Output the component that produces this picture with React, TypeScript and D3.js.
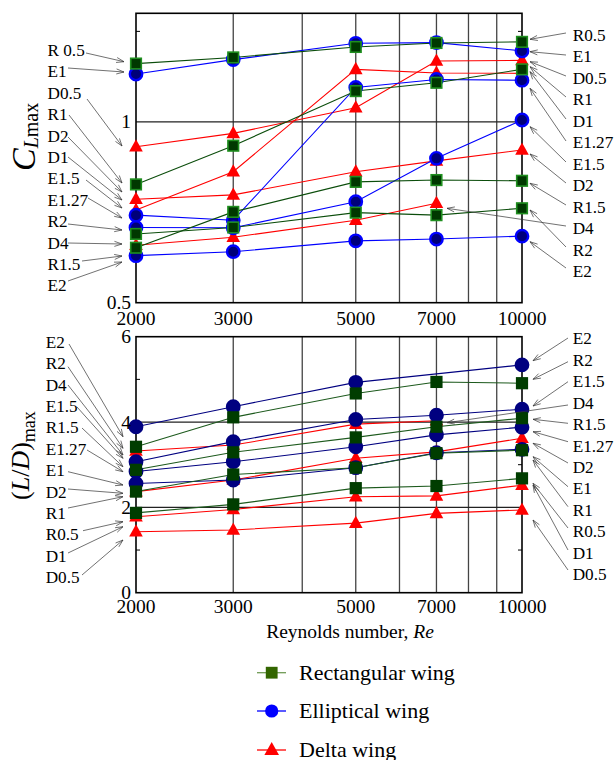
import React from "react";
import * as d3 from "d3";

// ---------- data ----------
const RE = [2000, 3000, 5000, 7000, 10000];
const X_TICKS = [2000, 3000, 5000, 7000, 10000];
const X_GRID = [3000, 4000, 5000, 6000, 7000, 8000, 9000];

// Top panel: C_Lmax
const CL_R05 = [1.161, 1.178, 1.207, 1.218, 1.221];
const CL_R1 = [0.827, 0.934, 1.085, 1.108, 1.145];
const CL_R15 = [0.652, 0.751, 0.834, 0.839, 0.837];
const CL_R2 = [0.69, 0.708, 0.749, 0.742, 0.761];
const CL_E1 = [1.132, 1.172, 1.217, 1.219, 1.196];
const CL_E127 = [0.742, 0.728, 1.095, 1.117, 1.115];
const CL_E15 = [0.708, 0.707, 0.779, 0.899, 1.005];
const CL_E2 = [0.63, 0.641, 0.671, 0.676, 0.684];
const CL_D05 = [0.931, 0.968, 1.039, 1.168, 1.17];
const CL_D1 = [0.756, 0.862, 1.145, 1.135, 1.134];
const CL_D2 = [0.786, 0.798, 0.862, 0.892, 0.922];
const CL_D4 = [0.659, 0.681, 0.728, 0.775, null];
const CL_Y_TICKS = [0.5, 1];
const CL_Y_MINOR = [0.75, 1.25];

// Bottom panel: (L/D)max
const LD_R05 = [1.87, 2.07, 2.45, 2.5, 2.68];
const LD_R1 = [2.37, 2.77, 2.93, 3.27, 3.34];
const LD_R15 = [2.88, 3.29, 3.64, 3.89, 4.09];
const LD_R2 = [3.42, 4.11, 4.67, 4.94, 4.91];
const LD_E1 = [2.56, 2.64, 2.93, 3.28, 3.36];
const LD_E127 = [2.84, 3.07, 3.42, 3.7, 3.88];
const LD_E15 = [3.07, 3.54, 4.06, 4.16, 4.3];
const LD_E2 = [3.89, 4.36, 4.93, null, 5.34];
const LD_D05 = [1.43, 1.47, 1.63, 1.86, 1.94];
const LD_D1 = [1.78, 1.95, 2.25, 2.27, 2.52];
const LD_D2 = [2.37, 2.64, 3.15, 3.3, 3.62];
const LD_D4 = [3.32, 3.46, 3.95, 4.03, null];
const LD_Y_TICKS = [0, 2, 4, 6];
const LD_Y_MINOR = [1, 3, 5];

const LEGEND = ["Rectangular wing", "Elliptical wing", "Delta wing"];

type Series = { name: string; kind: "R" | "E" | "D"; values: (number | null)[] };

const CL_SERIES: Series[] = [
  { name: "D0.5", kind: "D", values: CL_D05 },
  { name: "D1", kind: "D", values: CL_D1 },
  { name: "D2", kind: "D", values: CL_D2 },
  { name: "D4", kind: "D", values: CL_D4 },
  { name: "E1", kind: "E", values: CL_E1 },
  { name: "E1.27", kind: "E", values: CL_E127 },
  { name: "E1.5", kind: "E", values: CL_E15 },
  { name: "E2", kind: "E", values: CL_E2 },
  { name: "R0.5", kind: "R", values: CL_R05 },
  { name: "R1", kind: "R", values: CL_R1 },
  { name: "R1.5", kind: "R", values: CL_R15 },
  { name: "R2", kind: "R", values: CL_R2 },
];
const LD_SERIES: Series[] = [
  { name: "D0.5", kind: "D", values: LD_D05 },
  { name: "D1", kind: "D", values: LD_D1 },
  { name: "D2", kind: "D", values: LD_D2 },
  { name: "D4", kind: "D", values: LD_D4 },
  { name: "E1", kind: "E", values: LD_E1 },
  { name: "E1.27", kind: "E", values: LD_E127 },
  { name: "E1.5", kind: "E", values: LD_E15 },
  { name: "E2", kind: "E", values: LD_E2 },
  { name: "R0.5", kind: "R", values: LD_R05 },
  { name: "R1", kind: "R", values: LD_R1 },
  { name: "R1.5", kind: "R", values: LD_R15 },
  { name: "R2", kind: "R", values: LD_R2 },
];

// annotation labels: [text, startX, startY, endX, endY]
type Ann = [string, number, number, number, number];
const CL_LEFT: Ann[] = [
  ["R 0.5", 86, 53, 124, 61.7],
  ["E1", 68, 68, 124, 72],
  ["D0.5", 87, 99, 122, 146],
  ["R1", 69, 115, 122, 183],
  ["D2", 68, 137, 122, 192],
  ["D1", 68, 157, 122, 200],
  ["E1.5", 86, 180, 122, 208],
  ["E1.27", 88, 198, 122, 218],
  ["R2", 68, 224, 122, 230],
  ["D4", 68, 243, 122, 244],
  ["R1.5", 82, 261, 122, 256],
  ["E2", 68, 281, 122, 262],
];
const CL_RIGHT: Ann[] = [
  ["R0.5", 566, 33, 530, 39.3],
  ["E1", 566, 55, 530, 51.7],
  ["D0.5", 566, 76, 530, 61.7],
  ["R1", 566, 97, 530, 66.7],
  ["D1", 566, 119, 530, 71.7],
  ["E1.27", 566, 141, 530, 88.3],
  ["E1.5", 566, 162, 530, 126.7],
  ["D2", 566, 183, 530, 154],
  ["R1.5", 566, 205, 530, 183.3],
  ["D4", 566, 226, 447, 208.3],
  ["R2", 566, 247, 530, 210],
  ["E2", 566, 268, 530, 241.7],
];
const LD_LEFT: Ann[] = [
  ["E2", 69, 344, 123, 436.7],
  ["R2", 68, 366.7, 123, 448.3],
  ["D4", 68, 385, 123, 455],
  ["E1.5", 77, 407, 123, 458.3],
  ["R1.5", 82, 428, 123, 466.7],
  ["E1.27", 87, 450, 123, 471.7],
  ["E1", 68, 471.7, 123, 485],
  ["D2", 68, 489, 123, 493.3],
  ["R1", 68, 508, 123, 496.7],
  ["R0.5", 83, 530.7, 123, 521.7],
  ["D1", 68, 553, 123, 526.7],
  ["D0.5", 82, 575, 123, 540],
];
const LD_RIGHT: Ann[] = [
  ["E2", 568, 338, 533, 360.7],
  ["R2", 568, 361.7, 533, 379.3],
  ["E1.5", 568, 381.7, 533, 406],
  ["D4", 568, 405, 447, 422.7],
  ["R1.5", 568, 423.3, 533, 419.3],
  ["E1.27", 568, 441.7, 533, 431.7],
  ["D2", 568, 463, 533, 443.3],
  ["E1", 568, 486.7, 533, 456.7],
  ["R1", 568, 506.7, 533, 460],
  ["R0.5", 568, 528, 533, 483.3],
  ["D1", 568, 550, 533, 485],
  ["D0.5", 568, 570, 533, 520],
];

const FONT = "'Liberation Serif', 'Times New Roman', serif";

const x = d3.scaleLog().domain([2000, 10000]).range([136, 522]);
const yCL = d3.scaleLinear().domain([0.5, 1.3]).range([302.7, 13.3]);
const yLD = d3.scaleLinear().domain([0, 6]).range([592.7, 336.7]);

type Style = {
  line: Record<string, string>;
  circleFill: string;
  circleStroke: string;
  squareFill: string;
  squareStroke: string;
};
const TOP_STYLE: Style = {
  line: { R: "#0b4d0b", E: "#0000ff", D: "#ff0000" },
  circleFill: "#00007a",
  circleStroke: "#0000ff",
  squareFill: "#003800",
  squareStroke: "#1f8f1f",
};
const BOT_STYLE: Style = {
  line: { R: "#1d5a1d", E: "#000080", D: "#ff0000" },
  circleFill: "#000080",
  circleStroke: "#000080",
  squareFill: "#003d00",
  squareStroke: "#003d00",
};

function Marker({ kind, cx, cy, st }: { kind: string; cx: number; cy: number; st: Style }) {
  if (kind === "E")
    return <circle cx={cx} cy={cy} r={6.2} fill={st.circleFill} stroke={st.circleStroke} strokeWidth={2.4} />;
  if (kind === "R")
    return (
      <rect x={cx - 5.3} y={cy - 5.3} width={10.6} height={10.6} fill={st.squareFill} stroke={st.squareStroke} strokeWidth={1.6} />
    );
  return <path d={`M${cx},${cy - 7.5}L${cx + 6.8},${cy + 4.8}L${cx - 6.8},${cy + 4.8}Z`} fill="#ff0000" />;
}

function Arrow({ a }: { a: Ann }) {
  const [, x1, y1, x2, y2] = a;
  const ang = Math.atan2(y2 - y1, x2 - x1);
  const L = 8, W = 0.32;
  const p1 = [x2 - L * Math.cos(ang - W), y2 - L * Math.sin(ang - W)];
  const p2 = [x2 - L * Math.cos(ang + W), y2 - L * Math.sin(ang + W)];
  return (
    <g stroke="#333" strokeWidth={0.7} fill="none">
      <line x1={x1} y1={y1} x2={x2} y2={y2} />
      <path d={`M${p1[0]},${p1[1]}L${x2},${y2}L${p2[0]},${p2[1]}`} />
    </g>
  );
}

function Panel({
  y, series, st, yTicks, yMinor, yGrid, left, right, leftY0, rightY0, leftX, tickY,
}: {
  y: d3.ScaleLinear<number, number>; series: Series[]; st: Style; yTicks: number[]; yMinor: number[];
  yGrid: number[]; left: Ann[]; right: Ann[]; leftY0: number; rightY0: number; leftX: number; tickY: number;
}) {
  const [y0, y1] = y.range();
  const x0 = x(2000), x1 = x(10000);
  const line = d3.line<[number, number]>().x((d) => x(d[0])).y((d) => y(d[1]));
  return (
    <g>
      {X_GRID.map((g) => (
        <line key={g} x1={x(g)} x2={x(g)} y1={y1} y2={y0} stroke="#444" strokeWidth={1.3} />
      ))}
      {yGrid.map((g) => (
        <line key={g} x1={x0} x2={x1} y1={y(g)} y2={y(g)} stroke="#222" strokeWidth={1.2} />
      ))}
      {yMinor.map((g) => (
        <g key={g} stroke="#000" strokeWidth={1}>
          <line x1={x0} x2={x0 + 4} y1={y(g)} y2={y(g)} />
          <line x1={x1} x2={x1 - 4} y1={y(g)} y2={y(g)} />
        </g>
      ))}
      <rect x={x0} y={y1} width={x1 - x0} height={y0 - y1} fill="none" stroke="#000" strokeWidth={1.6} />
      {series.map((s) => {
        const pts = RE.map((r, i) => [r, s.values[i]] as [number, number | null]).filter((p) => p[1] != null) as [number, number][];
        return <path key={s.name} d={line(pts) || ""} fill="none" stroke={st.line[s.kind]} strokeWidth={1.1} />;
      })}
      {series.map((s) =>
        RE.map((r, i) =>
          s.values[i] == null ? null : (
            <Marker key={s.name + r} kind={s.kind} cx={x(r)} cy={y(s.values[i] as number)} st={st} />
          )
        )
      )}
      {X_TICKS.map((t) => (
        <text key={t} x={x(t)} y={tickY} textAnchor="middle" fontSize={19.5} fontFamily={FONT}>
          {t}
        </text>
      ))}
      {yTicks.map((t) => (
        <text key={t} x={131} y={y(t) + 6.5} textAnchor="end" fontSize={19.5} fontFamily={FONT}>
          {t}
        </text>
      ))}
      {left.map((a, i) => (
        <g key={"l" + i}>
          <text x={leftX} y={leftY0 + i * 21.4 + 6} fontSize={17.2} fontFamily={FONT}>
            {a[0]}
          </text>
          <Arrow a={a} />
        </g>
      ))}
      {right.map((a, i) => (
        <g key={"r" + i}>
          <text x={572.7} y={rightY0 + i * 21.45 + 6} fontSize={17.2} fontFamily={FONT}>
            {a[0]}
          </text>
          <Arrow a={a} />
        </g>
      ))}
    </g>
  );
}

export default function App() {
  const legendY = [672.7, 711, 750];
  return (
    <svg width={614} height={760} style={{ position: "absolute", left: 0, top: 0, background: "#fff" }}>
      <rect width={614} height={760} fill="#fff" />
      <Panel y={yCL} series={CL_SERIES} st={TOP_STYLE} yTicks={CL_Y_TICKS} yMinor={CL_Y_MINOR} yGrid={[1]}
        left={CL_LEFT} right={CL_RIGHT} leftY0={50} rightY0={35} leftX={47.5} tickY={325} />
      <Panel y={yLD} series={LD_SERIES} st={BOT_STYLE} yTicks={LD_Y_TICKS} yMinor={LD_Y_MINOR} yGrid={[2, 4]}
        left={LD_LEFT} right={LD_RIGHT} leftY0={341.7} rightY0={338.3} leftX={45.7} tickY={613} />
      {/* y titles */}
      <text transform="translate(35,171) rotate(-90)" fontFamily={FONT}>
        <tspan fontStyle="italic" fontSize={34}>C</tspan>
        <tspan fontStyle="italic" fontSize={20} dy={3}>L</tspan>
        <tspan fontSize={20}>max</tspan>
      </text>
      <text transform="translate(29,500) rotate(-90)" fontFamily={FONT} fontSize={26}>
        <tspan>(</tspan>
        <tspan fontStyle="italic">L</tspan>
        <tspan>/</tspan>
        <tspan fontStyle="italic">D</tspan>
        <tspan>)</tspan>
        <tspan fontSize={18} dy={6}>max</tspan>
      </text>
      {/* x title */}
      <text x={350} y={638} textAnchor="middle" fontFamily={FONT} fontSize={19.5}>
        Reynolds number, <tspan fontStyle="italic">Re</tspan>
      </text>
      {/* legend */}
      {LEGEND.map((t, i) => {
        const cy = legendY[i];
        const col = i === 0 ? "#6f9a55" : i === 1 ? "#0000ff" : "#ff0000";
        return (
          <g key={t}>
            <line x1={257} x2={286} y1={cy} y2={cy} stroke={col} strokeWidth={1.3} />
            {i === 0 && <rect x={265.8} y={cy - 5.9} width={11.8} height={11.8} fill="#336600" />}
            {i === 1 && <circle cx={271.7} cy={cy} r={6.6} fill="#0000ff" />}
            {i === 2 && <path d={`M271.7,${cy - 8}L279,${cy + 5}L264.4,${cy + 5}Z`} fill="#ff0000" />}
            <text x={299} y={cy + 7} fontFamily={FONT} fontSize={22}>
              {t}
            </text>
          </g>
        );
      })}
    </svg>
  );
}
